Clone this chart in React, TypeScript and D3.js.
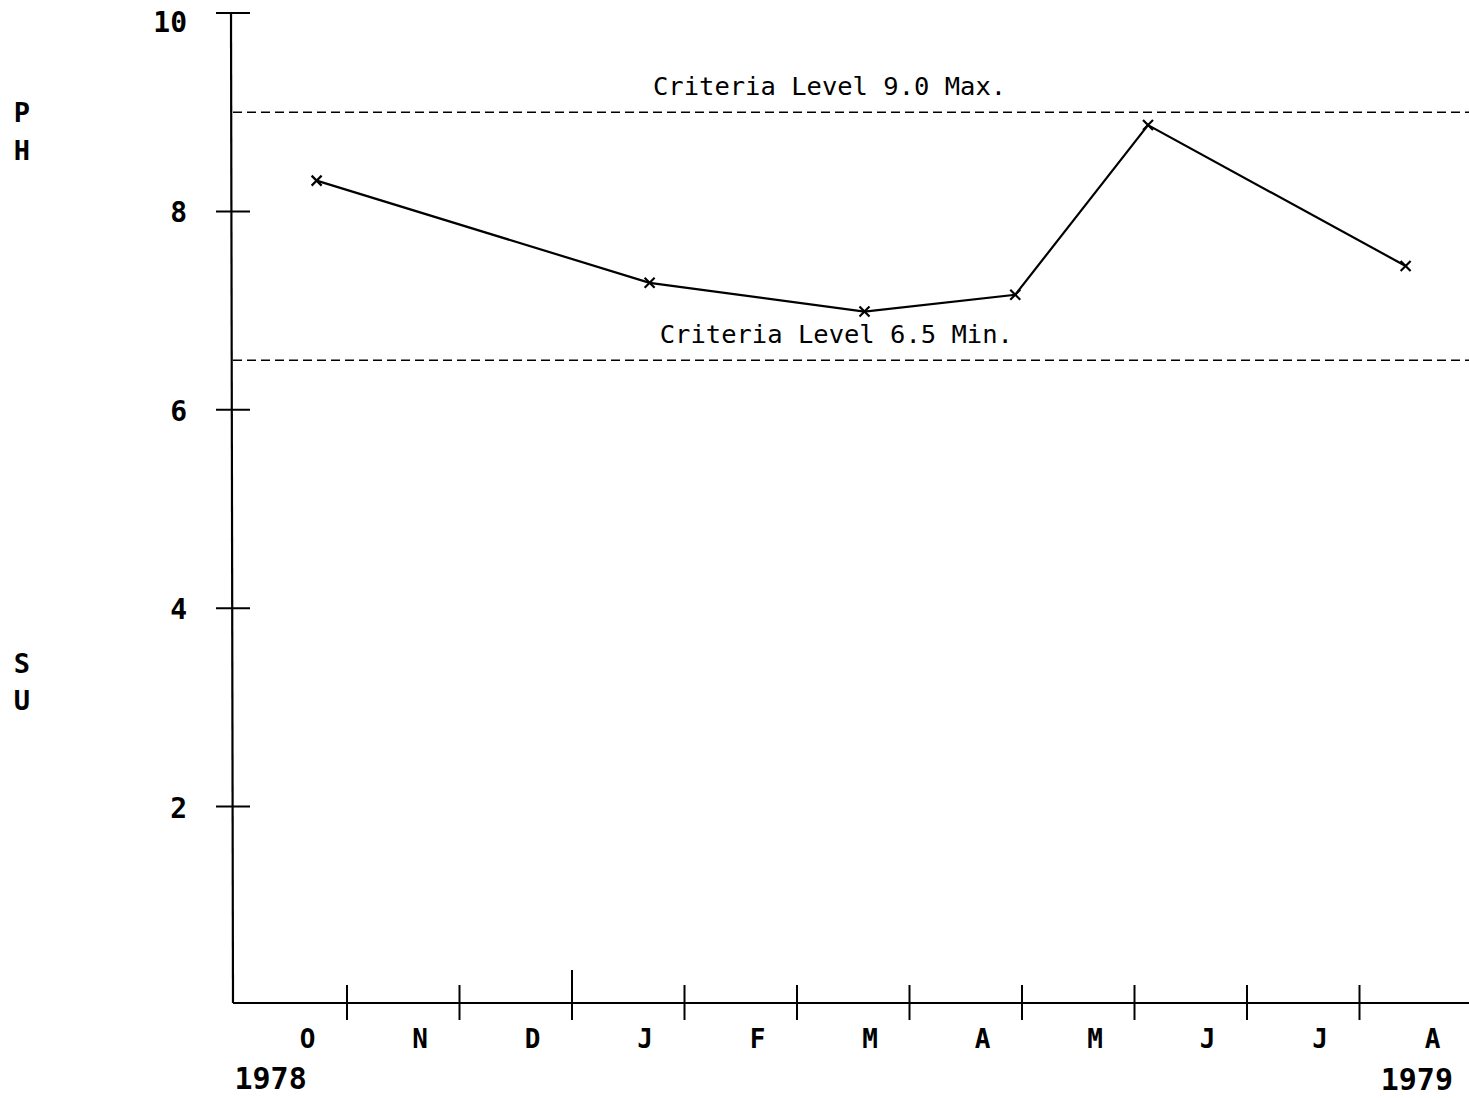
import React from "react";
import * as d3 from "d3";

// Months from 1 Oct 1978 (0) through Aug 1979
const monthLabels = ["O", "N", "D", "J", "F", "M", "A", "M", "J", "J", "A"];
const monthTicks = [1, 2, 3, 4, 5, 6, 7, 8, 9, 10];
const yearTickMonth = 3; // Jan boundary (taller tick)
const yTicks = [2, 4, 6, 8, 10];

// pH samples: time in months since 1 Oct 1978, pH value
const sampleMonths = [0.73, 3.69, 5.6, 6.94, 8.12, 10.41];
const phValues = [8.31, 7.28, 6.99, 7.16, 8.87, 7.45];

const criteriaValues = [9.0, 6.5];
const criteriaLabels = ["Criteria Level 9.0 Max.", "Criteria Level 6.5 Min."];
const criteriaLabelMonth = [3.72, 3.78];

const W = 1469;
const H = 1098;

export default function App() {
  const x = d3.scaleLinear().domain([0, 11]).range([234.5, 1472]);
  const y = d3.scaleLinear().domain([0, 10]).range([1005, 13]);
  const axisX = 231;
  const axisY = y(0) - 2;

  const pts = sampleMonths.map((m, i) => [x(m), y(phValues[i])] as [number, number]);
  const line = d3.line()(pts) || "";

  const mono = "'DejaVu Sans Mono', monospace";
  const cr = 5;

  return (
    <svg
      width={W}
      height={H}
      style={{ position: "absolute", left: 0, top: 0, background: "#fff" }}
    >
      <rect x={0} y={0} width={W} height={H} fill="#fff" />
      {/* Y axis */}
      <line x1={axisX} x2={axisX + 2} y1={y(10)} y2={axisY} stroke="#000" strokeWidth={2.2} />
      {yTicks.map((t) => (
        <g key={t}>
          <line x1={axisX - 15} x2={axisX + 19} y1={y(t)} y2={y(t)} stroke="#000" strokeWidth={2} />
          <text
            x={axisX - 44}
            y={y(t) + (t === 10 ? 19 : 11)}
            textAnchor="end"
            fontFamily={mono}
            fontWeight="bold"
            fontSize={28}
            fill="#000"
          >
            {String(t)}
          </text>
        </g>
      ))}
      {/* X axis */}
      <line x1={axisX + 2} x2={W} y1={axisY} y2={axisY} stroke="#000" strokeWidth={2} />
      {monthTicks.map((m) => (
        <line
          key={m}
          x1={x(m)}
          x2={x(m)}
          y1={m === yearTickMonth ? axisY - 33 : axisY - 18}
          y2={axisY + 17}
          stroke="#000"
          strokeWidth={2}
        />
      ))}
      {monthLabels.map((lab, i) => (
        <text
          key={i}
          x={x(i + 0.65)}
          y={axisY + 45}
          textAnchor="middle"
          fontFamily={mono}
          fontWeight="bold"
          fontSize={26}
          fill="#000"
        >
          {lab}
        </text>
      ))}
      <text x={x(0)} y={axisY + 86} fontFamily={mono} fontWeight="bold" fontSize={30} fill="#000">
        1978
      </text>
      <text x={1453} y={axisY + 87} textAnchor="end" fontFamily={mono} fontWeight="bold" fontSize={30} fill="#000">
        1979
      </text>

      {/* Criteria lines */}
      {criteriaValues.map((v, i) => (
        <g key={v}>
          <line
            x1={axisX + 2}
            x2={W}
            y1={y(v)}
            y2={y(v)}
            stroke="#000"
            strokeWidth={1.6}
            strokeDasharray="9,5"
          />
          <text
            x={x(criteriaLabelMonth[i])}
            y={y(v) - 17}
            fontFamily={mono}
            fontSize={25.5}
            fill="#000"
            textAnchor="start"
          >
            {criteriaLabels[i]}
          </text>
        </g>
      ))}

      {/* Data line */}
      <path d={line} fill="none" stroke="#000" strokeWidth={2.2} />
      {pts.map(([px, py], i) => (
        <g key={i} stroke="#000" strokeWidth={2.2}>
          <line x1={px - cr} x2={px + cr} y1={py - cr} y2={py + cr} />
          <line x1={px - cr} x2={px + cr} y1={py + cr} y2={py - cr} />
        </g>
      ))}

      {/* Axis title letters */}
      {[
        ["P", 9.0],
        ["H", 8.62],
        ["S", 3.45],
        ["U", 3.07],
      ].map(([ch, v]) => (
        <text
          key={ch as string}
          x={22}
          y={y(v as number) + 10}
          textAnchor="middle"
          fontFamily={mono}
          fontWeight="bold"
          fontSize={27}
          fill="#000"
        >
          {ch}
        </text>
      ))}
    </svg>
  );
}
